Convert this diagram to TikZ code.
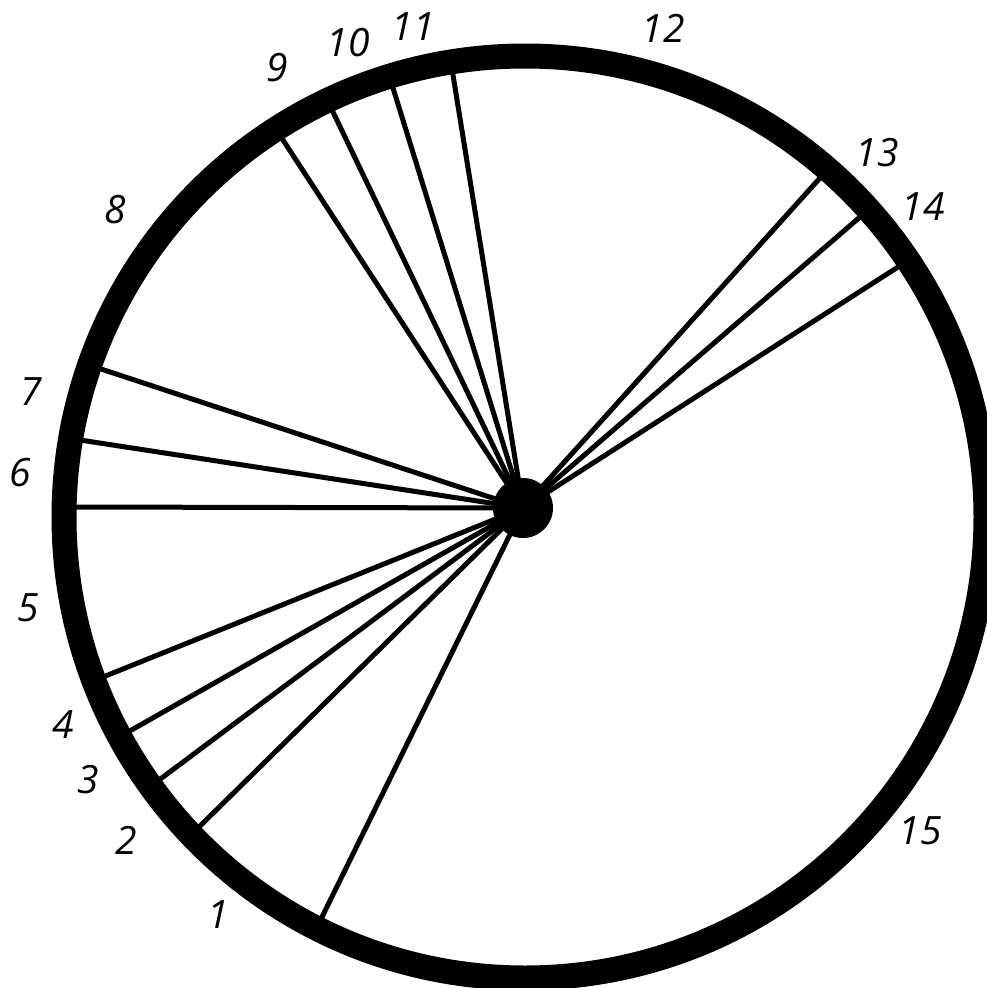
\documentclass[tikz,border=0pt]{standalone}
\usepackage{fontspec}
\setmainfont{Open Sans}
\begin{document}
\begin{tikzpicture}[x=1pt,y=-1pt,
  spoke/.style={line width=5pt, shorten >=-10pt},
  ring/.style={line width=25pt},
  hubdot/.style={circle, fill=black, minimum size=60pt, inner sep=0pt},
  lbl/.style={font=\fontsize{39}{42}\selectfont\itshape, inner sep=0pt}]
\useasboundingbox (0,0) rectangle (987,988);
% spoke ends on the inner edge of the ring
\coordinate (e1) at (322,917);
\coordinate (e2) at (199,827);
\coordinate (e3) at (159,780);
\coordinate (e4) at (128,732);
\coordinate (e5) at (103,677);
\coordinate (e6) at (73,507);
\coordinate (e7) at (80,440);
\coordinate (e8) at (98,368);
\coordinate (e9) at (283,140);
\coordinate (e10) at (333,112);
\coordinate (e11) at (393,88);
\coordinate (e12) at (453,75);
\coordinate (e13) at (820,178);
\coordinate (e14) at (860,217);
\coordinate (e15) at (898,267);
\coordinate (hc) at (523,508);
\foreach \i in {1,...,15} {\draw[spoke] (hc) -- (e\i);}
\node[draw=none, inner sep=0pt] (center) at (525,517) {};
\draw[ring] (center) circle[radius=461];
\node[hubdot] (hub) at (hc) {};
% labels
\node[lbl] (l1) at (218,915) {1};
\node[lbl] (l2) at (126,840) {2};
\node[lbl] (l3) at (88,780) {3};
\node[lbl] (l4) at (63,725) {4};
\node[lbl] (l5) at (28,608) {5};
\node[lbl] (l6) at (20,473) {6};
\node[lbl] (l7) at (31,392) {7};
\node[lbl] (l8) at (115,210) {8};
\node[lbl] (l9) at (277,68) {9};
\node[lbl] (l10) at (348,43) {10};
\node[lbl] (l11) at (413,27) {11};
\node[lbl] (l12) at (663,28) {12};
\node[lbl] (l13) at (877,153) {13};
\node[lbl] (l14) at (923,207) {14};
\node[lbl] (l15) at (920,831) {15};
\end{tikzpicture}
\end{document}
